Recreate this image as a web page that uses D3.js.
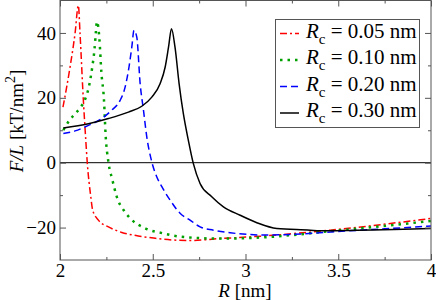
<!DOCTYPE html>
<html><head><meta charset="utf-8">
<script src="https://cdn.jsdelivr.net/npm/d3@7"></script>
<style>body{margin:0;background:#fff}</style>
</head><body>
<svg id="chart" width="436" height="300"></svg>
<script>
// ---- data ----
const seriesLabels = ["0.05", "0.10", "0.20", "0.30"];
const xTicks = [2, 2.5, 3, 3.5, 4];
const yTicks = [-20, 0, 20, 40];

const rRed   = [2.016, 2.054, 2.081, 2.099, 2.108, 2.126, 2.139, 2.147, 2.166, 2.176, 2.207, 2.261, 2.333, 2.422, 2.513, 2.60, 2.70, 2.863, 3.095, 3.457, 4.0];
const fRed   = [17.1, 29.4, 39.8, 48.5, 39.8, 19.2, 6.9, 0.0, -10.5, -14.6, -17.7, -19.8, -21.5, -22.6, -23.3, -23.8, -24.0, -23.4, -22.6, -20.8, -17.2];

const rGreen = [2.018, 2.05, 2.08, 2.11, 2.135, 2.158, 2.174, 2.186, 2.193, 2.199, 2.212, 2.223, 2.237, 2.246, 2.261, 2.282, 2.306, 2.349, 2.383, 2.462, 2.557, 2.647, 2.86, 3.1, 3.46, 4.0];
const fGreen = [10.0, 13.0, 15.0, 17.0, 19.5, 24.0, 29.5, 35.0, 40.0, 43.5, 38.5, 27.9, 19.4, 8.5, 0.2, -5.2, -10.5, -15.1, -17.4, -20.3, -21.8, -22.8, -23.4, -23.0, -21.1, -18.0];

const rBlue  = [2.018, 2.081, 2.153, 2.225, 2.279, 2.324, 2.351, 2.372, 2.387, 2.399, 2.414, 2.432, 2.45, 2.468, 2.495, 2.522, 2.549, 2.593, 2.647, 2.701, 2.755, 2.827, 2.917, 3.007, 3.115, 3.3, 3.5, 3.75, 4.0];
const fBlue  = [9.0, 9.8, 11.5, 13.6, 16.2, 19.2, 23.3, 29.5, 35.6, 40.8, 38.7, 24.4, 16.2, 7.9, 0.2, -4.4, -7.4, -11.5, -15.6, -17.7, -19.8, -20.8, -21.6, -22.1, -22.3, -22.0, -21.2, -20.4, -19.5];

const rBlack = [2.018, 2.153, 2.261, 2.369, 2.441, 2.495, 2.54, 2.567, 2.585, 2.601, 2.62, 2.642, 2.665, 2.692, 2.719, 2.755, 2.818, 2.881, 2.971, 3.061, 3.169, 3.349, 3.4, 3.6, 3.8, 4.0];
const fBlack = [10.7, 12.0, 13.6, 15.6, 17.4, 20.2, 24.4, 29.5, 35.6, 41.3, 35.6, 24.4, 15.1, 6.9, -0.3, -6.4, -10.5, -13.6, -16.2, -18.5, -20.3, -20.8, -21.0, -20.8, -20.6, -20.3];

const seriesR = [rRed, rGreen, rBlue, rBlack];
const seriesF = [fRed, fGreen, fBlue, fBlack];
const colors = ["#ff0000", "#00a000", "#0000ff", "#000000"];
const dashes = ["7,3,2,3", "2.5,5", "7,4", null];
const widths = [1.5, 2.5, 1.5, 1.5];

// ---- layout ----
const FONT = '"Times New Roman"';
const svg = d3.select("#chart");
const L = 60, R = 431, T = 0.5, B = 260;
const x = d3.scaleLinear().domain([2, 4]).range([L, R]);
const y = d3.scaleLinear().domain([-30, 50]).range([B, T]);
const axisColor = "#555";

const xMinor = [2.25, 2.75, 3.25, 3.75];
const yMinor = [-10, 10, 30];

function styleAxis(g) {
  g.attr("font-family", null).attr("font-size", null);
  g.select(".domain").remove();
  g.selectAll(".tick line").attr("stroke", axisColor);
  g.selectAll("text").attr("fill", "#000").style("font-size", "19px").style("font-family", FONT);
}

svg.append("clipPath").attr("id", "clip").append("rect")
  .attr("x", L).attr("y", T).attr("width", R - L).attr("height", B - T);

// zero line
svg.append("line").attr("x1", L).attr("x2", R).attr("y1", y(0)).attr("y2", y(0))
  .attr("stroke", "#000").attr("stroke-width", 1);

// curves
const line = d3.line().x(d => x(d[0])).y(d => y(d[1])).curve(d3.curveMonotoneX);
seriesR.forEach((rs, i) => {
  const pts = rs.map((r, j) => [r, seriesF[i][j]]);
  svg.append("path").attr("d", line(pts)).attr("fill", "none")
    .attr("clip-path", "url(#clip)")
    .attr("stroke", colors[i]).attr("stroke-width", widths[i])
    .attr("stroke-dasharray", dashes[i]);
});

// axes
svg.append("g").attr("transform", `translate(0,${B})`)
  .call(d3.axisBottom(x).tickValues(xTicks).tickSize(-6).tickPadding(3).tickFormat(d3.format("")))
  .call(styleAxis);
svg.append("g").attr("transform", `translate(0,${B})`)
  .call(d3.axisBottom(x).tickValues(xMinor).tickSize(-3).tickFormat("")).call(styleAxis);
svg.append("g").attr("transform", `translate(0,${T})`)
  .call(d3.axisTop(x).tickValues(xTicks).tickSize(-6).tickFormat("")).call(styleAxis);
svg.append("g").attr("transform", `translate(0,${T})`)
  .call(d3.axisTop(x).tickValues(xMinor).tickSize(-3).tickFormat("")).call(styleAxis);
svg.append("g").attr("transform", `translate(${L},0)`)
  .call(d3.axisLeft(y).tickValues(yTicks).tickSize(-6).tickPadding(4).tickFormat(d3.format("")))
  .call(styleAxis);
svg.append("g").attr("transform", `translate(${L},0)`)
  .call(d3.axisLeft(y).tickValues(yMinor).tickSize(-3).tickFormat("")).call(styleAxis);
svg.append("g").attr("transform", `translate(${R},0)`)
  .call(d3.axisRight(y).tickValues(yTicks).tickSize(-6).tickFormat("")).call(styleAxis);
svg.append("g").attr("transform", `translate(${R},0)`)
  .call(d3.axisRight(y).tickValues(yMinor).tickSize(-3).tickFormat("")).call(styleAxis);

// frame
svg.append("rect").attr("x", L).attr("y", T).attr("width", R - L).attr("height", B - T)
  .attr("fill", "none").attr("stroke", axisColor).attr("stroke-width", 1);

// axis titles
const xt = svg.append("text").attr("x", 245).attr("y", 297).attr("text-anchor", "middle")
  .style("font-size", "19px").style("font-family", FONT);
xt.append("tspan").style("font-style", "italic").text("R");
xt.append("tspan").text(" [nm]");

const yt = svg.append("text").attr("transform", "rotate(-90)")
  .attr("x", -121).attr("y", 23).attr("text-anchor", "middle")
  .style("font-size", "19px").style("font-family", FONT);
yt.append("tspan").style("font-style", "italic").text("F/L");
yt.append("tspan").text(" [kT/nm");
yt.append("tspan").style("font-size", "14px").attr("dy", -8).text("2");
yt.append("tspan").attr("dy", 8).text("]");

// legend
const lg = svg.append("g");
lg.append("rect").attr("x", 275.5).attr("y", 19.5).attr("width", 144).attr("height", 108)
  .attr("fill", "#fff").attr("stroke", axisColor).attr("stroke-width", 1);
seriesLabels.forEach((lab, i) => {
  const cy = 33.5 + 26.5 * i;
  lg.append("line").attr("x1", 280).attr("x2", 299).attr("y1", cy).attr("y2", cy)
    .attr("stroke", colors[i]).attr("stroke-width", widths[i])
    .attr("stroke-dasharray", dashes[i]);
  const t = lg.append("text").attr("x", 306).attr("y", cy + 4)
    .style("font-size", "21px").style("font-family", FONT);
  t.append("tspan").style("font-style", "italic").text("R");
  t.append("tspan").style("font-size", "15px").attr("dy", 6).text("c");
  t.append("tspan").attr("dy", -6).text(` = ${lab} nm`);
});
</script>
</body></html>
